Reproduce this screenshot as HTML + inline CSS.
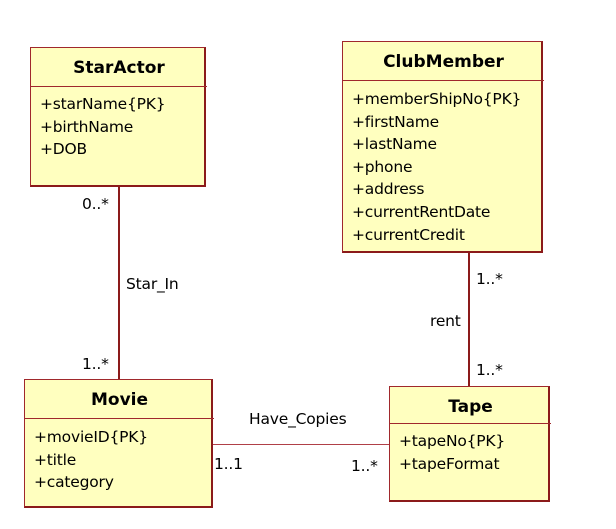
<!DOCTYPE html>
<html><head><style>
body{margin:0;width:616px;height:529px;background:#fff;position:relative;font-family:"DejaVu Sans","Liberation Sans",sans-serif;overflow:hidden}
.b{position:absolute;background:#ffffbf;border:1px solid #a0282c;border-bottom:2px solid #8b1a1a;border-right:2px solid #8b1a1a;box-sizing:border-box}
.h{position:absolute;left:0;right:-3px;border-bottom:1px solid #a0282c;font-weight:bold;text-align:center;font-size:17px;color:#000}
.a{position:absolute;left:9px;font-size:15.5px;line-height:22.6px;color:#000;letter-spacing:-0.2px}
.t{position:absolute;font-size:15.5px;color:#000;white-space:nowrap;letter-spacing:-0.2px}
.l{position:absolute;background:#8b1a1a}
</style></head><body>
<div class="l" style="left:118px;top:186px;width:2px;height:193px"></div>
<div class="l" style="left:468px;top:252px;width:2px;height:134px"></div>
<div class="l" style="left:212px;top:444px;width:177px;height:1px;background:#b04048"></div>

<div class="b" style="left:30px;top:47px;width:176px;height:140px">
<div class="h" style="top:0;height:38px;line-height:40px">StarActor</div>
<div class="a" style="top:45px">+starName{PK}<br>+birthName<br>+DOB</div></div>

<div class="b" style="left:342px;top:41px;width:201px;height:212px">
<div class="h" style="top:0;height:38px;line-height:40px">ClubMember</div>
<div class="a" style="top:46px">+memberShipNo{PK}<br>+firstName<br>+lastName<br>+phone<br>+address<br>+currentRentDate<br>+currentCredit</div></div>

<div class="b" style="left:24px;top:379px;width:189px;height:129px">
<div class="h" style="top:0;height:38px;line-height:40px">Movie</div>
<div class="a" style="top:46px">+movieID{PK}<br>+title<br>+category</div></div>

<div class="b" style="left:389px;top:386px;width:161px;height:116px">
<div class="h" style="top:0;height:36px;line-height:40px">Tape</div>
<div class="a" style="top:43px">+tapeNo{PK}<br>+tapeFormat</div></div>

<div class="t" style="left:82px;top:195px">0..*</div>
<div class="t" style="left:126px;top:275px">Star_In</div>
<div class="t" style="left:82px;top:355px">1..*</div>
<div class="t" style="left:476px;top:270px">1..*</div>
<div class="t" style="left:430px;top:312px">rent</div>
<div class="t" style="left:476px;top:361px">1..*</div>
<div class="t" style="left:249px;top:410px">Have_Copies</div>
<div class="t" style="left:214px;top:455px">1..1</div>
<div class="t" style="left:351px;top:457px">1..*</div>
</body></html>
